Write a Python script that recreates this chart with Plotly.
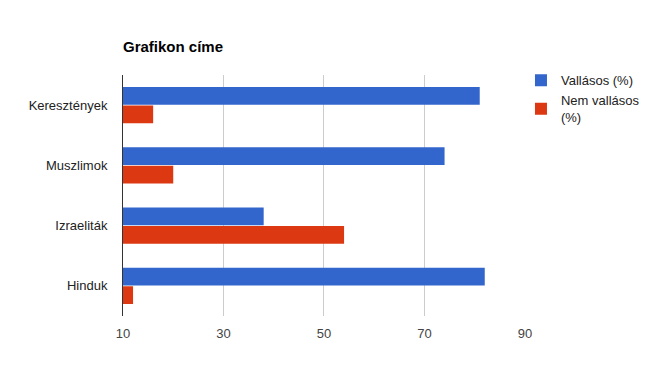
import plotly.graph_objects as go

categories = ["Keresztények", "Muszlimok", "Izraeliták", "Hinduk"]
vallasos = [81, 74, 38, 82]
nem_vallasos = [16, 20, 54, 12]
series_names = ["Vallásos (%)", "Nem vallásos<br>(%)"]
tick_vals = [10, 30, 50, 70, 90]

W, H = 639, 383  # page body has an 8px margin

fig = go.Figure()
fig.add_trace(go.Bar(y=categories, x=vallasos, orientation="h", name=series_names[0],
                     marker=dict(color="#3366cc", line=dict(width=0))))
fig.add_trace(go.Bar(y=categories, x=nem_vallasos, orientation="h", name=series_names[1],
                     marker=dict(color="#dc3912", line=dict(width=0))))

fig.update_layout(
    width=W, height=H,
    margin=dict(l=115, r=122, t=67, b=75, autoexpand=False),
    paper_bgcolor="white", plot_bgcolor="white",
    font=dict(family="Arial, Liberation Sans, sans-serif", size=13, color="#444"),
    title=dict(text="<b>Grafikon címe</b>", x=115/W, xanchor="left", y=1-39/H, yanchor="middle",
               font=dict(size=15, color="#000")),
    barmode="group", bargap=0.38, bargroupgap=0.05,
    legend=dict(x=0.99, y=1.04, xanchor="left", yanchor="top", traceorder="normal",
                font=dict(size=13, color="#222"), itemwidth=30, tracegroupgap=4),
    xaxis=dict(range=[10, 90.01], tickvals=tick_vals, showgrid=True, gridcolor="#cccccc",
               gridwidth=1, zeroline=False, showline=False, ticks="", ticklabelstandoff=8,
               tickfont=dict(size=13, color="#444")),
    yaxis=dict(autorange="reversed", showline=True, linecolor="#333", linewidth=1,
               ticks="", ticklabelstandoff=12, tickfont=dict(size=13, color="#222")),
)

fig.write_html("out.html")
